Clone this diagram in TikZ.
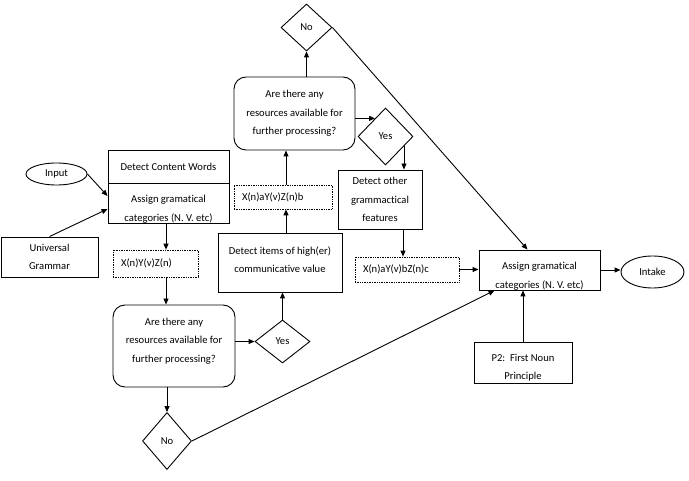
\documentclass[tikz,border=0pt]{standalone}
\usepackage{fontspec}
\setmainfont[Ligatures=NoCommon]{Carlito}
\usetikzlibrary{shapes.geometric,arrows.meta,calc}
\begin{document}
\begin{tikzpicture}[x=1pt,y=-1pt,
  txt/.style={font=\fontsize{10.6}{18.5}\selectfont, inner sep=0pt, align=center},
  box/.style={txt, draw, rectangle, line width=0.9pt},
  rbox/.style={draw, rectangle, rounded corners=12pt, line width=0.9pt, inner sep=0pt},
  dbox/.style={txt, draw, rectangle, densely dotted, line width=0.7pt, align=left, inner xsep=8pt},
  dia/.style={txt, draw, diamond, aspect=1, line width=0.9pt},
  ell/.style={txt, draw, ellipse, line width=0.9pt},
  arr/.style={-{Triangle[length=6pt,width=5pt]}, line width=0.9pt},
  ln/.style={line width=0.9pt}
]
\useasboundingbox (0,0) rectangle (689,481);

% left part
\node[ell, minimum width=61, minimum height=22] (input) at (56.5,174) {Input};
\node[box, minimum width=121, minimum height=33] (dcw) at (168.5,166.5) {Detect Content Words};
\node[box, minimum width=121, minimum height=40,
  path picture={\node[txt, yshift=-6pt] (agc1t) at (path picture bounding box.center) {Assign gramatical\\categories (N. V. etc)};}] (agc1) at (168.5,203) {};
\node[box, minimum width=97, minimum height=40] (ug) at (49.5,257) {Universal\\Grammar};
\node[dbox, text width=69, minimum height=27] (x1) at (155.5,263.5) {X(n)Y(v)Z(n)};
\node[rbox, minimum width=122, minimum height=82] (q1) at (174,346) {};
\node[txt, yshift=5pt] (q1t) at (q1.center) {Are there any\\resources available for\\further processing?};
\node[dia, minimum width=49, minimum height=57] (no1) at (167,441) {No};
\node[dia, minimum width=55, minimum height=43] (yes1) at (282.5,341.5) {Yes};

% middle part
\node[box, minimum width=124, minimum height=59] (di) at (280,262.5) {};
\node[txt, yshift=3pt] (dit) at (di.center) {Detect items of high(er)\\communicative value};
\node[dbox, text width=82, minimum height=24] (x2) at (283,197) {X(n)aY(v)Z(n)b};
\node[rbox, minimum width=121, minimum height=73] (q2) at (294.5,113.5) {};
\node[txt] (q2t) at (q2.center) {Are there any\\resources available for\\further processing?};
\node[dia, minimum width=51, minimum height=47] (no2) at (306.5,27.5) {No};
\node[dia, minimum width=55, minimum height=57] (yes2) at (385.5,136.5) {Yes};
\node[box, minimum width=84, minimum height=59] (dof) at (380,199.5) {Detect other\\grammactical\\features};
\node[dbox, text width=88, minimum height=25] (x3) at (407,269.5) {X(n)aY(v)bZ(n)c};

% right part
\node[box, minimum width=121, minimum height=40,
  path picture={\node[txt, yshift=-6pt] (agc2t) at (path picture bounding box.center) {Assign gramatical\\categories (N. V. etc)};}] (agc2) at (539.5,270) {};
\node[ell, minimum width=63, minimum height=32] (intake) at (652.5,272) {Intake};
\node[box, minimum width=98, minimum height=41,
  path picture={\node[txt, yshift=-5pt] (p2t) at (path picture bounding box.center) {P2:\ \ First Noun\\Principle};}] (p2) at (523,362.5) {};

% helper columns
\coordinate (c1) at (166,0);
\coordinate (c2) at (286,0);
\coordinate (c4) at (403,0);

% connectors
\draw[arr] (input.east) -- ($(agc1.west)+(0,-7)$);
\draw[arr] (ug.north) -- ($(agc1.west)+(0,6)$);
\draw[arr] (agc1.south -| c1) -- (x1.north -| c1);
\draw[arr] (x1.south -| c1) -- (q1.north -| c1);
\draw[arr] (q1.south -| no1.north) -- (no1.north);
\draw[arr] (q1.east |- yes1.west) -- (yes1.west);
\draw[arr] (yes1.north) -- (yes1.north |- di.south);
\draw[arr] (di.north -| c2) -- (x2.south -| c2);
\draw[arr] (x2.north -| c2) -- (q2.south -| c2);
\draw[arr] (q2.north -| no2.south) -- (no2.south);
\draw[arr] (q2.east |- yes2.120) -- (yes2.120);
\draw[arr] (yes2.-28) -- (yes2.-28 |- dof.north);
\draw[arr] (dof.south -| c4) -- (x3.north -| c4);
\draw[arr] (x3.east) -- (x3.east -| agc2.west);
\draw[arr] (agc2.east) -- (agc2.east -| intake.west);
\draw[arr] (p2.north) -- (p2.north |- agc2.south);
\draw[arr] (no2.east) -- ($(agc2.north)+(-12,0)$);
\draw[arr] (no1.east) -- ($(agc2.south west)+(16,0)$);
\end{tikzpicture}
\end{document}
